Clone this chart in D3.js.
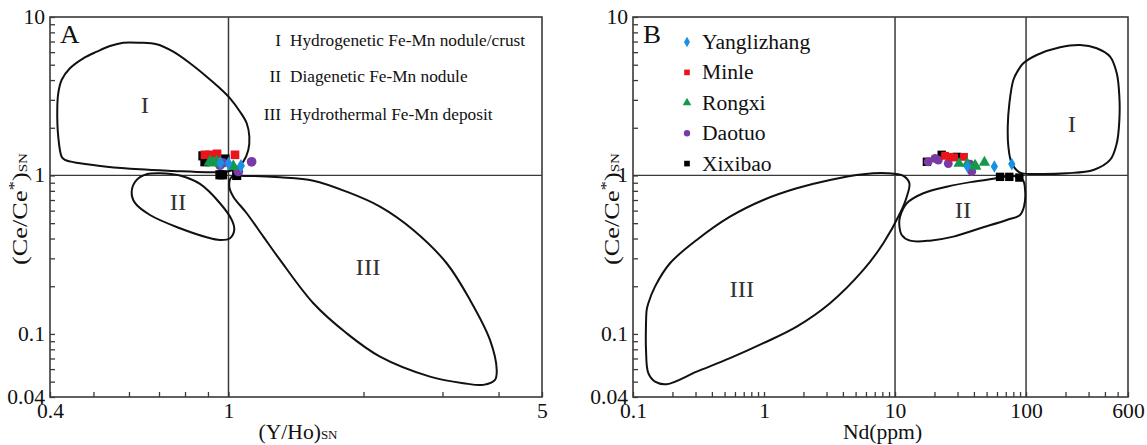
<!DOCTYPE html>
<html>
<head>
<meta charset="utf-8">
<script src="https://cdn.jsdelivr.net/npm/d3@7"></script>
<style>
body { margin: 0; background: #fff; }
svg text { font-family: "Liberation Serif", "Times New Roman", serif; fill: #111; }
</style>
</head>
<body>
<svg id="chart" width="1147" height="445"></svg>
<script>
"use strict";

const FONT = '"Liberation Serif", "Times New Roman", serif';

// series names and colours
const seriesNames = ["Yanglizhang", "Minle", "Rongxi", "Daotuo", "Xixibao"];
const seriesColors = ["#1b8fe3", "#e8161c", "#13994a", "#7a3aa6", "#000000"];

// panel A: (Y/Ho)SN vs (Ce/Ce*)SN
const aYanglizhangX = [1.00, 1.066, 0.96];
const aYanglizhangY = [1.19, 1.15, 1.20];
const aMinleX = [0.886, 0.909, 0.943, 1.034];
const aMinleY = [1.35, 1.35, 1.37, 1.35];
const aRongxiX = [0.909, 0.941, 1.025, 0.923];
const aRongxiY = [1.22, 1.22, 1.14, 1.20];
const aDaotuoX = [0.957, 0.972, 1.052, 1.126];
const aDaotuoY = [1.16, 1.20, 1.06, 1.22];
const aXixibaoX = [0.877, 0.886, 0.982, 0.957, 0.97, 1.043];
const aXixibaoY = [1.33, 1.22, 1.27, 1.01, 1.01, 1.00];

// panel B: Nd(ppm) vs (Ce/Ce*)SN
const bYanglizhangX = [35.6, 57.3, 77.8];
const bYanglizhangY = [1.14, 1.14, 1.18];
const bMinleX = [24.1, 26.3, 28.2, 33.6];
const bMinleY = [1.33, 1.31, 1.30, 1.31];
const bRongxiX = [30.8, 35.6, 40.8, 41.3, 48.1];
const bRongxiY = [1.19, 1.19, 1.16, 1.14, 1.21];
const bDaotuoX = [17.9, 20.2, 21.4, 25.5, 37.4, 38.5];
const bDaotuoY = [1.22, 1.28, 1.25, 1.19, 1.18, 1.06];
const bXixibaoX = [17.5, 22.7, 29.6, 63.3, 74.5, 88.9];
const bXixibaoY = [1.22, 1.35, 1.31, 0.98, 0.98, 0.97];

// field outlines, [x, y] in data units
const aField1 = [[0.4246,1.314],[0.4173,1.757],[0.4152,2.590],[0.4173,3.301],[0.4246,4.004],[0.4431,4.747],
  [0.4746,5.489],[0.5085,6.040],[0.5443,6.561],[0.5826,6.884],[0.6347,6.884],[0.6917,6.725],[0.7531,6.040],
  [0.8207,5.105],[0.8941,4.201],[0.9573,3.549],[1.008,3.069],[1.061,2.526],[1.098,2.135],[1.113,1.757],
  [1.107,1.448],[1.079,1.222],[1.043,1.110],[0.991,1.057],[0.8941,1.048],[0.7531,1.068],[0.6347,1.094],
  [0.5352,1.137],[0.4667,1.194],[0.4318,1.253]];
const aField2 = [[0.6083,0.790],[0.6241,0.937],[0.657,1.018],[0.7036,1.033],[0.7795,0.999],[0.8639,0.884],
  [0.9573,0.668],[1.017,0.524],[1.030,0.453],[1.008,0.4016],[0.9573,0.3918],[0.8941,0.4075],[0.7795,0.4644],
  [0.6683,0.5632],[0.6187,0.671]];
const aField3 = [[1.017,0.983],[1.098,0.993],[1.303,0.974],[1.546,0.927],[1.834,0.790],[2.177,0.636],
  [2.582,0.453],[3.065,0.2793],[3.455,0.1639],[3.828,0.0917],[3.963,0.0593],[3.928,0.0513],[3.699,0.0477],
  [3.338,0.0489],[2.813,0.0538],[2.177,0.0719],[1.834,0.101],[1.546,0.1562],[1.303,0.2931],[1.196,0.4111],
  [1.098,0.5775],[1.025,0.7348],[1.004,0.850]];
const bField1 = [[95.3,5.105],[120.7,5.758],[181.8,6.439],[258.4,6.658],[346.5,6.346],[437.7,5.617],
  [492.5,4.414],[515.5,3.141],[515.5,2.239],[492.5,1.597],[437.7,1.253],[326.3,1.083],[204.5,1.033],
  [120.7,1.022],[90.0,1.041],[77.8,1.194],[73.3,1.519],[72.5,2.032],[74.6,2.854],[80.0,4.004],[87.3,4.631]];
const bField2 = [[10.92,0.5496],[12.29,0.668],[16.44,0.772],[24.81,0.850],[39.6,0.914],[56.3,0.954],
  [80.0,0.993],[94.4,0.937],[98.3,0.810],[96.5,0.636],[90.0,0.5632],[71.2,0.524],[44.6,0.4644],
  [27.9,0.4111],[18.50,0.3878],[13.02,0.3878],[11.25,0.4213],[10.78,0.4872]];
const bField3 = [[0.1272,0.1417],[0.1309,0.1562],[0.1472,0.1988],[0.1916,0.2793],[0.3064,0.3918],
  [0.55,0.5496],[0.988,0.7006],[1.776,0.830],[3.19,0.937],[5.73,1.018],[8.64,1.033],[11.57,0.993],
  [12.86,0.893],[12.29,0.7348],[10.92,0.5775],[8.14,0.3735],[5.73,0.2534],[3.19,0.1562],[1.776,0.1112],
  [0.988,0.0874],[0.55,0.0703],[0.3064,0.0578],[0.1808,0.0482],[0.1472,0.050],[0.1309,0.0565],
  [0.1257,0.0793],[0.1257,0.1168]];

// field labels
const fieldNames = ["I", "II", "III"];
const aFieldLabelPos = [[0.651, 2.667], [0.772, 0.651], [2.047, 0.2534]];
const bFieldLabelPos = [[224, 2.023], [33.0, 0.580], [0.679, 0.184]];
const aFieldLegend = ["Hydrogenetic Fe-Mn nodule/crust", "Diagenetic Fe-Mn nodule", "Hydrothermal Fe-Mn deposit"];

// ticks
const yDomain = [0.04, 10];
const yMajor = [0.04, 0.1, 1, 10];
const yMinor = [0.05, 0.06, 0.07, 0.08, 0.09, 0.2, 0.3, 0.4, 0.5, 0.6, 0.7, 0.8, 0.9, 2, 3, 4, 5, 6, 7, 8, 9];
const aXDomain = [0.4, 5];
const aXMajor = [0.4, 1, 5];
const aXMinor = [0.5, 0.6, 0.7, 0.8, 0.9, 2, 3, 4];
const bXDomain = [0.1, 600];
const bXMajor = [0.1, 1, 10, 100, 600];
const bXMinor = [0.2, 0.3, 0.4, 0.5, 0.6, 0.7, 0.8, 0.9, 2, 3, 4, 5, 6, 7, 8, 9,
  20, 30, 40, 50, 60, 70, 80, 90, 200, 300, 400, 500];

const svg = d3.select("#chart");
const top0 = 17, bottom0 = 397;
const lineColor = "#3a3a3a";
const symbolTypes = [d3.symbolDiamond, d3.symbolSquare, d3.symbolTriangle, d3.symbolCircle, d3.symbolSquare];
const symbolSizes = [46, 62, 56, 62, 70];
const stretch = 1.08; // the reference type is a little wider than normal

function zipPts(xs, ys) { return xs.map((x, i) => [x, ys[i]]); }

const panels = [
  {
    letter: "A", left: 50, right: 542, xDomain: aXDomain, xMajor: aXMajor, xMinor: aXMinor,
    xLines: [1], xTitle: "(Y/Ho)", xSub: "SN", fields: [aField1, aField2, aField3], labelPos: aFieldLabelPos,
    series: [zipPts(aYanglizhangX, aYanglizhangY), zipPts(aMinleX, aMinleY), zipPts(aRongxiX, aRongxiY),
      zipPts(aDaotuoX, aDaotuoY), zipPts(aXixibaoX, aXixibaoY)],
    yTitleX: 27, symScale: 1.2
  },
  {
    letter: "B", left: 633, right: 1128, xDomain: bXDomain, xMajor: bXMajor, xMinor: bXMinor,
    xLines: [10, 100], xTitle: "Nd(ppm)", xSub: "", fields: [bField1, bField2, bField3], labelPos: bFieldLabelPos,
    series: [zipPts(bYanglizhangX, bYanglizhangY), zipPts(bMinleX, bMinleY), zipPts(bRongxiX, bRongxiY),
      zipPts(bDaotuoX, bDaotuoY), zipPts(bXixibaoX, bXixibaoY)],
    yTitleX: 619, symScale: 1
  }
];

panels.forEach(function (p) {
  const x = d3.scaleLog().domain(p.xDomain).range([p.left, p.right]);
  const y = d3.scaleLog().domain(yDomain).range([bottom0, top0]);
  const g = svg.append("g");

  // y axis, ticks pointing inward
  const yAxis = g.append("g")
    .attr("transform", `translate(${p.left},0)`)
    .call(d3.axisLeft(y).tickValues(yMajor.concat(yMinor))
      .tickSize(-5).tickPadding(5)
      .tickFormat(d => yMajor.includes(d) ? d3.format("~g")(d) : ""));
  yAxis.attr("font-family", FONT).attr("font-size", 20);
  yAxis.select(".domain").remove();
  yAxis.selectAll("line").attr("stroke", lineColor).attr("stroke-width", 1.3);
  yAxis.selectAll("text").attr("fill", "#111");

  // x axis
  const xAxis = g.append("g")
    .attr("transform", `translate(0,${bottom0})`)
    .call(d3.axisBottom(x).tickValues(p.xMajor.concat(p.xMinor))
      .tickSize(-5).tickPadding(7)
      .tickFormat(d => p.xMajor.includes(d) ? d3.format("~g")(d) : ""));
  xAxis.attr("font-family", FONT).attr("font-size", 20);
  xAxis.select(".domain").remove();
  xAxis.selectAll("line").attr("stroke", lineColor).attr("stroke-width", 1.3);
  xAxis.selectAll("text").attr("fill", "#111");

  // reference lines
  g.append("line")
    .attr("x1", p.left).attr("x2", p.right)
    .attr("y1", y(1)).attr("y2", y(1))
    .attr("stroke", lineColor).attr("stroke-width", 1.3);
  p.xLines.forEach(v => {
    g.append("line")
      .attr("x1", x(v)).attr("x2", x(v))
      .attr("y1", top0).attr("y2", bottom0)
      .attr("stroke", lineColor).attr("stroke-width", 1.5);
  });

  // field outlines
  const outline = d3.line().x(d => x(d[0])).y(d => y(d[1])).curve(d3.curveCatmullRomClosed.alpha(0.5));
  g.selectAll(".field")
    .data(p.fields)
    .enter()
    .append("path")
    .attr("class", "field")
    .attr("d", outline)
    .attr("fill", "none")
    .attr("stroke", "#111")
    .attr("stroke-width", 2);

  // field labels
  g.selectAll(".fieldLabel")
    .data(p.labelPos)
    .enter()
    .append("text")
    .attr("x", d => x(d[0]))
    .attr("y", d => y(d[1]))
    .attr("text-anchor", "middle")
    .attr("dominant-baseline", "middle")
    .style("font-size", "23px")
    .style("fill", "#333")
    .text((d, i) => fieldNames[i]);

  // samples, black first so colours stay on top
  const drawOrder = [4, 3, 1, 2, 0];
  drawOrder.forEach(si => {
    g.selectAll(null)
      .data(p.series[si])
      .enter()
      .append("path")
      .attr("transform", d => `translate(${x(d[0])},${y(d[1])})`)
      .attr("d", d3.symbol().type(symbolTypes[si]).size(symbolSizes[si] * p.symScale))
      .attr("fill", seriesColors[si]);
  });

  // frame
  g.append("rect")
    .attr("x", p.left).attr("y", top0)
    .attr("width", p.right - p.left).attr("height", bottom0 - top0)
    .attr("fill", "none").attr("stroke", lineColor).attr("stroke-width", 1.6);

  // panel letter
  g.append("text")
    .attr("x", p.left + 10).attr("y", top0 + 26)
    .style("font-size", "25px")
    .text(p.letter);

  // x title
  const xt = g.append("text")
    .attr("x", (p.left + p.right) / 2 + 2)
    .attr("y", 439)
    .attr("text-anchor", "middle")
    .style("font-size", "20px");
  xt.append("tspan").text(p.xTitle);
  if (p.xSub) xt.append("tspan").style("font-size", "12px").text(p.xSub);

  // y title
  const yt = g.append("text")
    .attr("class", "rot")
    .attr("transform", `translate(${p.yTitleX},${(top0 + bottom0) / 2 + 2}) rotate(-90)`)
    .attr("text-anchor", "middle")
    .attr("textLength", 112)
    .attr("lengthAdjust", "spacingAndGlyphs")
    .style("font-size", "21px");
  yt.append("tspan").text("(Ce/Ce");
  yt.append("tspan").attr("dy", -8).style("font-size", "15px").text("*");
  yt.append("tspan").attr("dy", 8).text(")");
  yt.append("tspan").style("font-size", "12px").text("SN");
});

// field legend in panel A
const fl = svg.append("g");
const flRows = [46, 82, 120];
fieldNames.forEach((n, i) => {
  fl.append("text")
    .attr("x", 281).attr("y", flRows[i])
    .attr("text-anchor", "end")
    .style("font-size", "16px")
    .text(n);
  fl.append("text")
    .attr("x", 290).attr("y", flRows[i])
    .style("font-size", "16px")
    .text(aFieldLegend[i]);
});

// series legend in panel B
const lg = svg.append("g");
seriesNames.forEach((n, i) => {
  const ry = 42 + i * 30.4;
  lg.append("path")
    .attr("transform", `translate(687,${ry})`)
    .attr("d", d3.symbol().type(symbolTypes[i]).size(32))
    .attr("fill", seriesColors[i]);
  lg.append("text")
    .attr("x", 702).attr("y", ry)
    .attr("dominant-baseline", "central")
    .style("font-size", "20px")
    .text(n);
});

// same serif everywhere, and widen the horizontal texts a little
svg.selectAll("text").style("font-family", FONT);
svg.selectAll("text:not(.rot)").each(function () {
  const len = this.getComputedTextLength();
  if (len > 0) {
    d3.select(this)
      .attr("textLength", len * stretch)
      .attr("lengthAdjust", "spacingAndGlyphs");
  }
});
</script>
</body>
</html>
